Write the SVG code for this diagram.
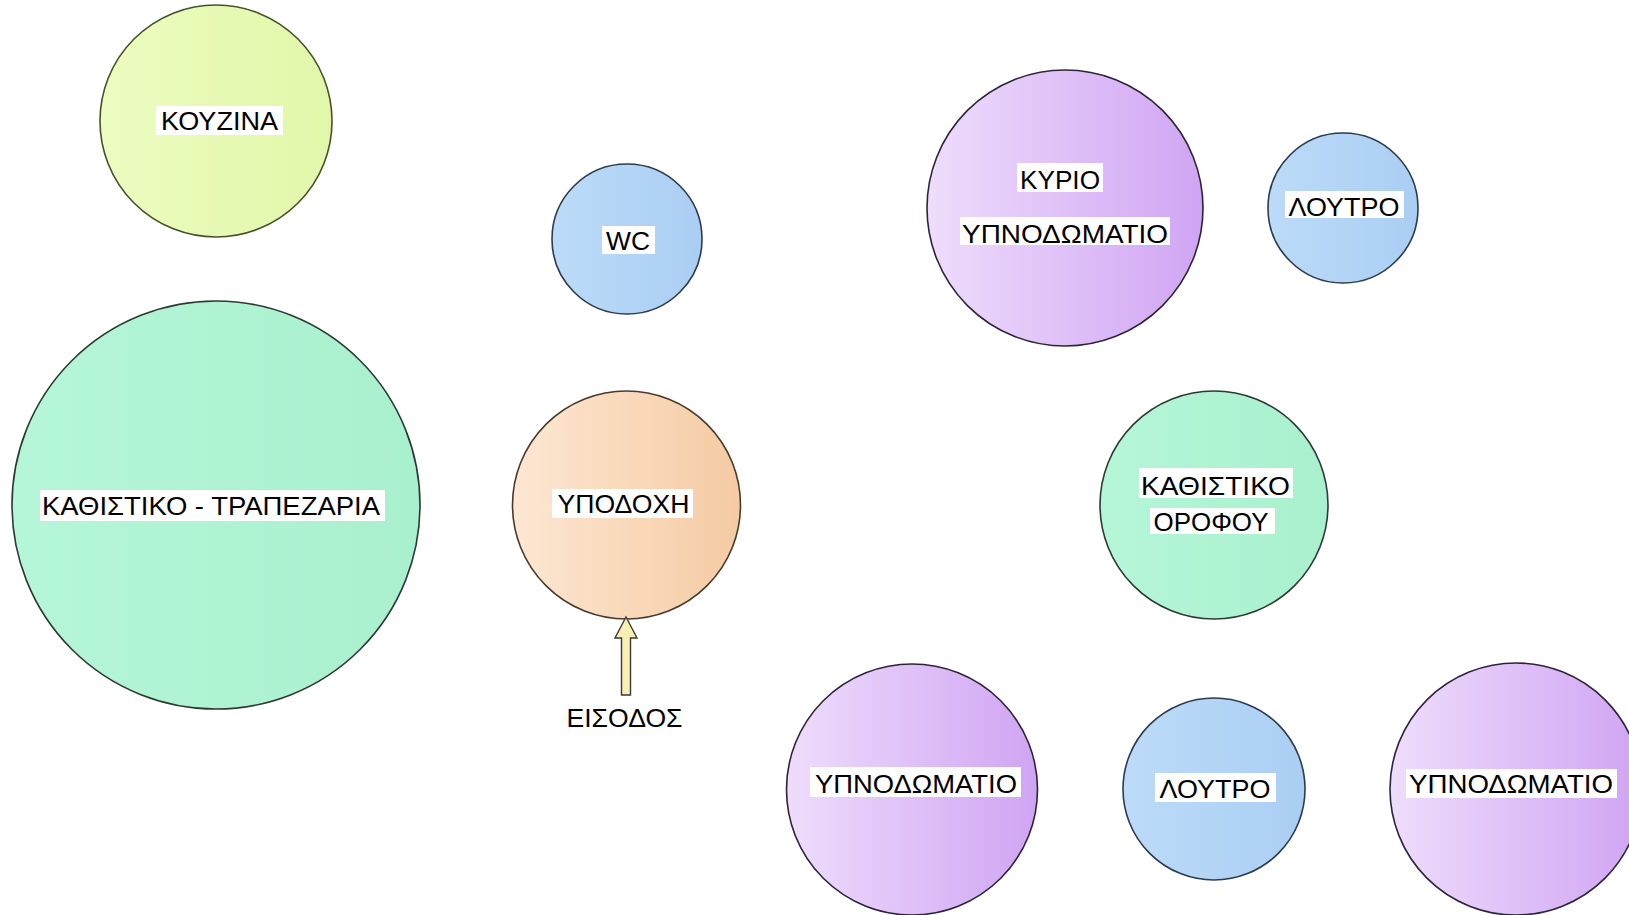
<svg xmlns="http://www.w3.org/2000/svg" width="1629" height="915" viewBox="0 0 1629 915">
<style>
.node{stroke-width:1.6}
.lbl{fill:#ffffff}
.t{font-family:"Liberation Sans",Arial,sans-serif;font-size:26.5px;fill:#000;text-anchor:middle}
.arrow{fill:#F9EFB4;stroke:#3a3a3a;stroke-width:1.4;stroke-linejoin:miter}
</style>
<defs>
<linearGradient id="gKitchen" x1="0" y1="0" x2="1" y2="0"><stop offset="0" stop-color="#EDFCC0"/><stop offset="1" stop-color="#E1F7A9"/></linearGradient>
<linearGradient id="gGreen" x1="0" y1="0" x2="1" y2="0"><stop offset="0" stop-color="#B5F6D8"/><stop offset="1" stop-color="#A9F0CE"/></linearGradient>
<linearGradient id="gBlue" x1="0" y1="0" x2="1" y2="0"><stop offset="0" stop-color="#BCDBF8"/><stop offset="1" stop-color="#AACEF3"/></linearGradient>
<linearGradient id="gOrange" x1="0" y1="0" x2="1" y2="0"><stop offset="0" stop-color="#FDE7D3"/><stop offset="1" stop-color="#F5CBA3"/></linearGradient>
<linearGradient id="gPurple" x1="0" y1="0" x2="1" y2="0"><stop offset="0" stop-color="#EEDDFC"/><stop offset="1" stop-color="#D0A4F3"/></linearGradient>
</defs>
<rect width="1629" height="915" fill="#ffffff"/>

<g id="kouzina">
<circle class="node" cx="216" cy="121" r="116" fill="url(#gKitchen)" stroke="#46512c"/>
<rect class="lbl" x="156" y="106" width="127" height="29"/>
<text class="t" x="219.5" y="129.5" textLength="117" lengthAdjust="spacingAndGlyphs">ΚΟΥΖΙΝΑ</text>
</g>

<g id="kathistiko-trapezaria">
<circle class="node" cx="216" cy="505" r="204" fill="url(#gGreen)" stroke="#2c3a33"/>
<rect class="lbl" x="40" y="490" width="345" height="31"/>
<text class="t" x="211" y="515" textLength="338" lengthAdjust="spacingAndGlyphs">ΚΑΘΙΣΤΙΚΟ - ΤΡΑΠΕΖΑΡΙΑ</text>
</g>

<g id="wc">
<circle class="node" cx="627" cy="239" r="75" fill="url(#gBlue)" stroke="#2d3b4f"/>
<rect class="lbl" x="602" y="226" width="53" height="28"/>
<text class="t" x="628" y="249.5" textLength="44" lengthAdjust="spacingAndGlyphs">WC</text>
</g>

<g id="ypodoxi">
<circle class="node" cx="626.5" cy="505" r="114" fill="url(#gOrange)" stroke="#4a3a2e"/>
<rect class="lbl" x="552" y="489" width="141" height="29"/>
<text class="t" x="623.5" y="512.8" textLength="132" lengthAdjust="spacingAndGlyphs">ΥΠΟΔΟΧΗ</text>
</g>

<g id="kyrio-ypnodomatio">
<circle class="node" cx="1065" cy="208" r="138" fill="url(#gPurple)" stroke="#2e2438"/>
<rect class="lbl" x="1017" y="163" width="86" height="29"/>
<text class="t" x="1060" y="188.5" textLength="80" lengthAdjust="spacingAndGlyphs">ΚΥΡΙΟ</text>
<rect class="lbl" x="960" y="217" width="210" height="28"/>
<text class="t" x="1065" y="242.5" textLength="206" lengthAdjust="spacingAndGlyphs">ΥΠΝΟΔΩΜΑΤΙΟ</text>
</g>

<g id="loutro-1">
<circle class="node" cx="1343" cy="208" r="75" fill="url(#gBlue)" stroke="#2d3b4f"/>
<rect class="lbl" x="1285" y="191" width="119" height="27"/>
<text class="t" x="1344" y="215.5" textLength="111" lengthAdjust="spacingAndGlyphs">ΛΟΥΤΡΟ</text>
</g>

<g id="kathistiko-orofou">
<circle class="node" cx="1214" cy="505" r="114" fill="url(#gGreen)" stroke="#2c3a33"/>
<rect class="lbl" x="1139" y="468" width="154" height="30"/>
<text class="t" x="1215.5" y="495" textLength="149" lengthAdjust="spacingAndGlyphs">ΚΑΘΙΣΤΙΚΟ</text>
<rect class="lbl" x="1150" y="508" width="125" height="26"/>
<text class="t" x="1211" y="530.5" textLength="115" lengthAdjust="spacingAndGlyphs">ΟΡΟΦΟΥ</text>
</g>

<g id="ypnodomatio-1">
<circle class="node" cx="912" cy="789.5" r="125.5" fill="url(#gPurple)" stroke="#2e2438"/>
<rect class="lbl" x="810" y="767" width="211" height="30"/>
<text class="t" x="916" y="792.5" textLength="202" lengthAdjust="spacingAndGlyphs">ΥΠΝΟΔΩΜΑΤΙΟ</text>
</g>

<g id="loutro-2">
<circle class="node" cx="1214" cy="789" r="91" fill="url(#gBlue)" stroke="#2d3b4f"/>
<rect class="lbl" x="1155" y="773" width="121" height="29"/>
<text class="t" x="1215" y="797.5" textLength="111" lengthAdjust="spacingAndGlyphs">ΛΟΥΤΡΟ</text>
</g>

<g id="ypnodomatio-2">
<circle class="node" cx="1516" cy="789" r="126" fill="url(#gPurple)" stroke="#2e2438"/>
<rect class="lbl" x="1406" y="769" width="211" height="29"/>
<text class="t" x="1511" y="792.5" textLength="204" lengthAdjust="spacingAndGlyphs">ΥΠΝΟΔΩΜΑΤΙΟ</text>
</g>

<g id="connectors">
<polygon class="arrow" points="626,617 637,638 630.5,638 630.5,695 621.5,695 621.5,638 615,638"/>
</g>

<g id="eisodos">
<text class="t" x="624.5" y="726.5" textLength="116" lengthAdjust="spacingAndGlyphs">ΕΙΣΟΔΟΣ</text>
</g>
</svg>
